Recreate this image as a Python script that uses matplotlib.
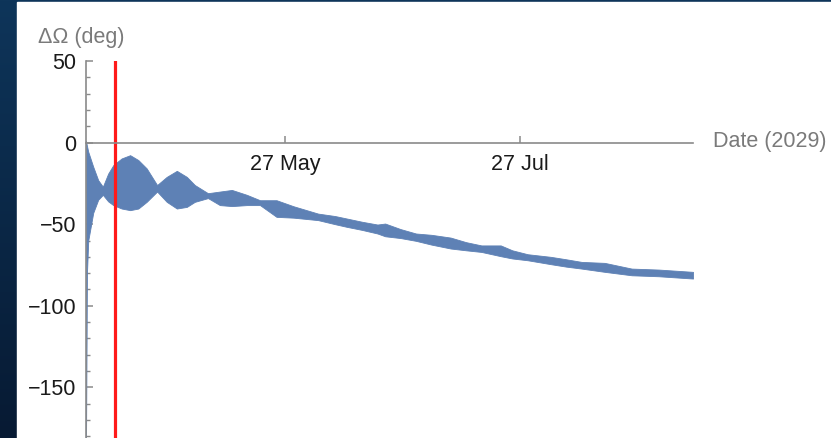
import numpy as np
import pandas as pd
import matplotlib
matplotlib.use("Agg")
import matplotlib.pyplot as plt
import matplotlib.dates as mdates
from matplotlib.ticker import MultipleLocator, FixedLocator
from matplotlib.colors import LinearSegmentedColormap

plt.rcParams["font.family"] = ["Liberation Sans", "DejaVu Sans"]

# Envelope of the node-longitude difference (deg) over 2029
dates = [
    "2029-04-05 08:00", "2029-04-05 14:00", "2029-04-05 22:00", "2029-04-07 05:00",
    "2029-04-08 12:00", "2029-04-09 17:00", "2029-04-11 02:00", "2029-04-12 10:00",
    "2029-04-14 14:00", "2029-04-16 19:00", "2029-04-18 22:00", "2029-04-21 02:00",
    "2029-04-23 19:00", "2029-04-26 07:00", "2029-04-28 22:00", "2029-05-01 12:00",
    "2029-05-03 14:00", "2029-05-07 00:00", "2029-05-10 02:00", "2029-05-13 05:00",
    "2029-05-17 02:00", "2029-05-20 12:00", "2029-05-24 19:00", "2029-05-29 05:00",
    "2029-06-04 14:00", "2029-06-09 00:00", "2029-06-12 00:00", "2029-06-16 00:00",
    "2029-06-20 00:00", "2029-06-22 00:00", "2029-06-26 00:00", "2029-06-30 00:00",
    "2029-07-04 00:00", "2029-07-09 00:00", "2029-07-13 00:00", "2029-07-17 00:00",
    "2029-07-22 00:00", "2029-07-25 00:00", "2029-07-29 00:00", "2029-08-04 00:00",
    "2029-08-08 00:00", "2029-08-12 00:00", "2029-08-18 00:00", "2029-08-25 00:00",
    "2029-09-01 00:00", "2029-09-09 22:00",
]
upper_deg = [
    1, -2, -5.6, -14.8,
    -23, -27, -19, -13.8,
    -9.7, -7.7, -10.7, -15.8,
    -26, -21, -17.3, -21,
    -26, -31, -30, -29,
    -32, -35.3, -35.3, -39,
    -43.5, -45, -46.5, -48.5,
    -50.2, -49.6, -53, -55.7,
    -56.5, -58.2, -61, -63,
    -63, -66, -68.4, -70,
    -71.5, -73.1, -73.7, -77.2,
    -77.8, -79.2,
]
lower_deg = [
    -185, -80, -60, -43,
    -35, -32, -36, -38.3,
    -40.4, -41.4, -40.4, -36.3,
    -30, -36.3, -40.4, -39.4,
    -36.3, -34, -38.3, -38.9,
    -38.3, -38.3, -45.5, -46,
    -47.5, -50, -51.6, -53.5,
    -55.7, -57.4, -58.5, -60.2,
    -62.5, -64.9, -66, -67,
    -69.6, -71, -72.1, -74.5,
    -76, -77.2, -79.2, -81.3,
    -81.9, -83.3,
]

# Close approach marker and date ticks
encounter_date = "2029-04-12 18:00"
date_ticks = ["2029-05-27", "2029-07-27"]
date_tick_labels = ["27 May", "27 Jul"]
y_ticks = [50, 0, -50, -100, -150]

W, H = 831, 438
fig = plt.figure(figsize=(W / 100, H / 100), dpi=100)
fig.patch.set_facecolor("#0b2b4c")

# dark slide background with a vertical gradient on the left strip
bg = fig.add_axes([0, 0, 1, 1], zorder=-10)
grad = np.linspace(0, 1, 256).reshape(-1, 1)
cmap = LinearSegmentedColormap.from_list("slide", ["#071a33", "#0e355a"])
bg.imshow(grad, aspect="auto", cmap=cmap, extent=[0, 1, 0, 1], origin="lower")
bg.add_patch(plt.Rectangle((17 / W, 0), 1 - 17 / W, 1 - 2 / H, color="white"))
bg.set_xlim(0, 1)
bg.set_ylim(0, 1)
bg.axis("off")

x = pd.to_datetime(dates)
ax = fig.add_axes([86 / W, 0, (693 - 86) / W, (438 - 61) / H])
ax.set_facecolor("none")

ax.fill_between(x, upper_deg, lower_deg, color="#5E81B5", linewidth=0.6,
                edgecolor="#5E81B5", zorder=2)
ax.axvline(pd.Timestamp(encounter_date), color="#ff1a1a", linewidth=2.3, zorder=3)

ax.set_xlim(pd.Timestamp(dates[0]), pd.Timestamp(dates[-1]))
ax.set_ylim(-181, 50)

axis_grey = "#8a8a8a"
for s in ("top", "right"):
    ax.spines[s].set_visible(False)
ax.spines["bottom"].set_position(("data", 0))
for s in ("bottom", "left"):
    ax.spines[s].set_color(axis_grey)
    ax.spines[s].set_linewidth(1.2)
    ax.spines[s].set_zorder(4)

ax.xaxis.set_major_locator(FixedLocator(mdates.date2num(pd.to_datetime(date_ticks))))
ax.set_xticklabels(date_tick_labels)
ax.yaxis.set_major_locator(FixedLocator(y_ticks))
ax.yaxis.set_minor_locator(MultipleLocator(10))

fs = 15.5
ax.tick_params(axis="x", direction="in", length=5, width=1.1, color=axis_grey,
               labelsize=fs, labelcolor="#1a1a1a", pad=8)
ax.tick_params(axis="y", which="major", direction="in", length=5, width=1.1,
               color=axis_grey, labelsize=fs, labelcolor="#1a1a1a", pad=7)
ax.tick_params(axis="y", which="minor", direction="in", length=3.2, width=1.0,
               color=axis_grey)

fig.text(38 / W, 1 - 37 / H, "ΔΩ (deg)", fontsize=fs, color="#7a7a7a",
         ha="left", va="center")
fig.text(713 / W, 1 - 142 / H, "Date (2029)", fontsize=fs, color="#7a7a7a",
         ha="left", va="center")

fig.savefig("out.png", dpi=100, facecolor=fig.get_facecolor())
